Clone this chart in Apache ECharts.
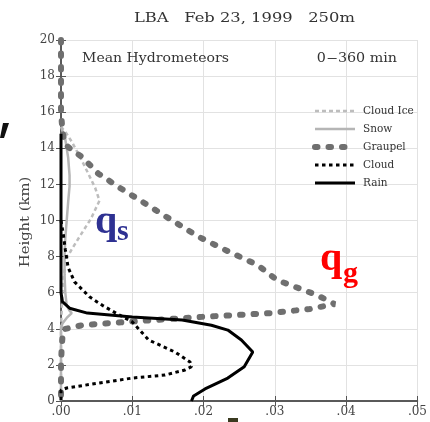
<!DOCTYPE html>
<html><head><meta charset="utf-8">
<script src="https://cdn.jsdelivr.net/npm/echarts@6/dist/echarts.min.js"></script>
<style>html,body{margin:0;padding:0;background:#fff}#c{width:430px;height:422px}</style>
</head><body><div id="c"></div>
<script>
var xTicks = ['.00', '.01', '.02', '.03', '.04', '.05'];
var seriesNames = ['Cloud Ice', 'Snow', 'Graupel', 'Cloud', 'Rain'];

var cloudIceH = [15.2, 14.8, 14.37, 13.5, 12.7, 11.8, 11.1, 10.1, 9.1, 8.4, 7.9, 7.0, 6.0, 5.0, 4.0, 0];
var cloudIceX = [0, 0.0008, 0.0015, 0.0027, 0.0037, 0.0048, 0.0054, 0.0042, 0.0026, 0.0015, 0.0008, 0.0004, 0.0002, 0.0001, 0, 0];

var snowH = [15.2, 14.5, 13.5, 12.5, 11.9, 11.0, 10.0, 9.0, 8.0, 7.0, 6.0, 5.3, 5.0, 4.87, 4.6, 4.3, 4.0, 3, 2, 1, 0];
var snowX = [0, 0.0006, 0.001, 0.0012, 0.0012, 0.001, 0.0008, 0.0006, 0.0005, 0.0005, 0.0006, 0.0008, 0.0012, 0.0015, 0.0008, 0.0002, 0, 0, 0, 0, 0];

var graupelH = [20, 19, 18, 17, 16, 15, 14.3, 14.07, 13.5, 12.61, 11.8, 11.04, 10.1, 9.1, 8.3, 7.53, 6.7, 5.87, 5.37, 5.1, 4.87, 4.65, 4.43, 4.2, 3.98, 3.5, 3, 2, 1, 0];
var graupelX = [0, 0, 0, 0, 0, 0.0002, 0.0005, 0.001, 0.003, 0.0052, 0.0083, 0.0114, 0.0152, 0.0193, 0.0234, 0.0276, 0.0303, 0.0359, 0.0384, 0.0349, 0.0294, 0.0193, 0.011, 0.003, 0.0004, 0.0002, 0.0001, 0, 0, 0];

var cloudH = [10.0, 9.3, 8.4, 7.4, 6.6, 5.77, 5.3, 4.87, 4.38, 3.9, 3.38, 2.71, 2.16, 1.9, 1.72, 1.44, 1.27, 1.0, 0.72, 0.6, 0.3, 0];
var cloudX = [0, 0.0003, 0.0006, 0.001, 0.0019, 0.004, 0.0058, 0.0077, 0.01, 0.0111, 0.0123, 0.016, 0.0181, 0.0183, 0.0174, 0.0146, 0.01, 0.0054, 0.0008, 0, 0, 0];

var rainH = [14.8, 12, 10, 8, 6, 5.5, 5.14, 4.87, 4.66, 4.49, 4.2, 3.93, 3.38, 2.71, 1.9, 1.27, 0.67, 0.28, 0];
var rainX = [0, 0, 0, 0, 0, 0.0002, 0.0012, 0.0037, 0.01, 0.017, 0.0211, 0.0234, 0.0253, 0.0269, 0.0257, 0.0234, 0.0202, 0.0186, 0.0183];

function pairs(xs, hs) { return xs.map(function (v, i) { return [v, hs[i]]; }); }

var FONT = 'DejaVu Serif';
var chart = echarts.init(document.getElementById('c'));
var tickStyle = { inside: true, length: 5, lineStyle: { color: '#555', width: 1 } };
var axLine = { show: true, lineStyle: { color: '#505050', width: 1.5 } };
var grid = { lineStyle: { color: '#e2e2e2', width: 1 } };

function mk(name, xs, hs, color, width, type, cap) {
  return {
    name: name, type: 'line', data: pairs(xs, hs), symbol: 'none', smooth: false,
    lineStyle: { color: color, width: width, type: type, cap: cap || 'butt' },
    itemStyle: { color: color }, animation: false, z: 3
  };
}
function txt(x, y, text, font, opts) {
  var o = { type: 'text', x: x, y: y, z: 10, style: { text: text, font: font, fill: '#333', align: 'left', verticalAlign: 'top' } };
  for (var k in opts) { if (k === 'style') { for (var s in opts.style) o.style[s] = opts.style[s]; } else o[k] = opts[k]; }
  return o;
}

chart.setOption({
  animation: false,
  grid: { left: 61, right: 8, top: 40, bottom: 21 },
  xAxis: [{
    type: 'value', min: 0, max: 0.05, interval: 0.01,
    axisLine: axLine, axisTick: tickStyle, splitLine: grid,
    axisLabel: { formatter: function (v) { return xTicks[Math.round(v * 100)]; }, color: '#444', fontFamily: FONT, fontSize: 12, margin: 5 }
  }, {
    type: 'value', position: 'top', min: 0, max: 0.05, interval: 0.01,
    axisLine: axLine, axisTick: tickStyle, splitLine: { show: false }, axisLabel: { show: false }
  }],
  yAxis: [{
    type: 'value', min: 0, max: 20, interval: 2,
    axisLine: axLine, axisTick: tickStyle, splitLine: grid,
    axisLabel: { color: '#444', fontFamily: FONT, fontSize: 12, margin: 6 }
  }, {
    type: 'value', position: 'right', min: 0, max: 20, interval: 2,
    axisLine: axLine, axisTick: tickStyle, splitLine: { show: false }, axisLabel: { show: false }
  }],
  legend: {
    orient: 'vertical', left: 307, top: 100, itemWidth: 40, itemHeight: 10, itemGap: 6,
    data: seriesNames,
    itemStyle: { opacity: 0 },
    lineStyle: { width: 'inherit', type: 'inherit', cap: 'inherit' },
    textStyle: { color: '#333', fontFamily: FONT, fontSize: 10.5, lineHeight: 12, padding: [0, 0, 0, 3] }
  },
  series: [
    mk('Cloud Ice', cloudIceX, cloudIceH, '#bdbdbd', 2.5, [4, 3]),
    mk('Snow', snowX, snowH, '#b5b5b5', 2.5, 'solid'),
    mk('Graupel', graupelX, graupelH, '#6f6f6f', 6, [2.5, 11], 'round'),
    mk('Cloud', cloudX, cloudH, '#000', 3, [3.5, 3.5]),
    mk('Rain', rainX, rainH, '#000', 3, 'solid')
  ],
  graphic: [
    txt(134, 12, 'LBA   Feb 23, 1999   250m', '13px "DejaVu Serif"', { scaleX: 1.256 }),
    txt(82, 53, 'Mean Hydrometeors', '12px "DejaVu Serif"', { scaleX: 1.17 }),
    txt(397, 53, '0\u2212360 min', '12px "DejaVu Serif"', { scaleX: 1.19, style: { align: 'right' } }),
    txt(26, 222, 'Height (km)', '12px "DejaVu Serif"', { rotation: Math.PI / 2, scaleX: 1.23, style: { fill: '#444', align: 'center', verticalAlign: 'middle' } }),
    txt(95, 203, 'q', 'bold 40px "Liberation Serif"', { style: { fill: '#2e3192' } }),
    txt(117, 217, 's', 'bold 30px "Liberation Serif"', { style: { fill: '#2e3192' } }),
    txt(320, 240, 'q', 'bold 40px "Liberation Serif"', { style: { fill: '#ff0000' } }),
    txt(343, 259, 'g', 'bold 30px "Liberation Serif"', { style: { fill: '#ff0000' } }),
    { type: 'polygon', shape: { points: [[3, 123], [9, 123], [4, 138], [0, 138]] }, style: { fill: '#111' } },
    { type: 'rect', shape: { x: 228, y: 418, width: 10, height: 4 }, style: { fill: '#3a3a20' } }
  ]
});
</script></body></html>
